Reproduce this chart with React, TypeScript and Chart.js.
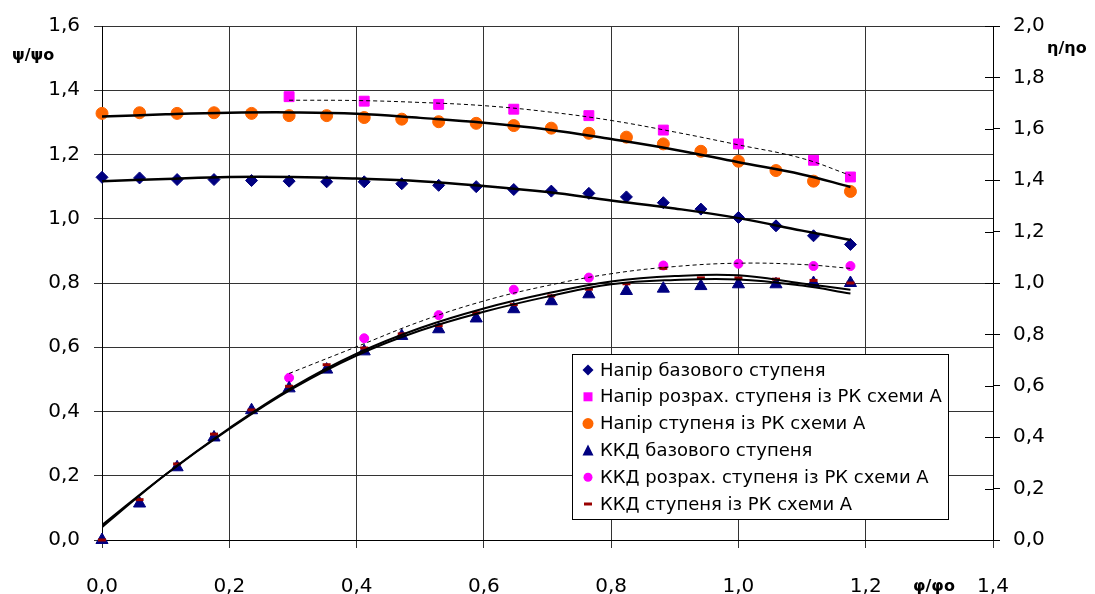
import React, { useEffect, useRef } from "react";
import { Chart, registerables } from "chart.js";

Chart.register(...registerables);

// ---- data ----
const phi = [0, 0.059, 0.118, 0.176, 0.235, 0.294, 0.353, 0.412, 0.471, 0.529, 0.588, 0.647, 0.706, 0.765, 0.824, 0.882, 0.941, 1.0, 1.059, 1.118, 1.176];
const headBase = [1.129, 1.127, 1.122, 1.122, 1.119, 1.117, 1.115, 1.115, 1.109, 1.104, 1.1, 1.091, 1.086, 1.079, 1.068, 1.05, 1.03, 1.004, 0.978, 0.947, 0.92];
const headA = [1.328, 1.33, 1.328, 1.33, 1.328, 1.321, 1.321, 1.315, 1.31, 1.302, 1.297, 1.29, 1.282, 1.266, 1.254, 1.233, 1.21, 1.179, 1.15, 1.117, 1.085];
const phiCalc = [0.294, 0.412, 0.529, 0.647, 0.765, 0.882, 1.0, 1.118, 1.176];
const headCalc = [1.38, 1.366, 1.356, 1.341, 1.321, 1.276, 1.233, 1.182, 1.13];
const effBase = [0, 0.142, 0.283, 0.399, 0.505, 0.59, 0.663, 0.734, 0.794, 0.82, 0.862, 0.898, 0.929, 0.956, 0.969, 0.978, 0.988, 0.995, 0.995, 1.0, 1.0];
const effCalc = [0.631, 0.785, 0.875, 0.974, 1.021, 1.068, 1.075, 1.066, 1.066];
const effA = [0, 0.157, 0.296, 0.412, 0.506, 0.598, 0.682, 0.747, 0.802, 0.834, 0.884, 0.916, 0.95, 0.976, 0.997, 1.057, 1.02, 1.02, 1.015, 1.01, 1.0];

// trend curves
const trendX = [0, 0.1, 0.2, 0.3, 0.4, 0.5, 0.6, 0.7, 0.8, 0.9, 1.0, 1.1, 1.176];
const headATrend = [1.318, 1.325, 1.33, 1.331, 1.327, 1.314, 1.299, 1.278, 1.248, 1.215, 1.176, 1.138, 1.099];
const headBaseTrend = [1.117, 1.124, 1.13, 1.13, 1.125, 1.117, 1.102, 1.083, 1.057, 1.032, 1.002, 0.963, 0.934];
const effATrend = [0.05, 0.255, 0.435, 0.595, 0.725, 0.825, 0.901, 0.96, 1.006, 1.027, 1.03, 0.998, 0.974];
const effBaseTrend = [0.058, 0.255, 0.432, 0.59, 0.718, 0.815, 0.888, 0.947, 0.995, 1.012, 1.014, 0.99, 0.959];
const trendCalcX = [0.294, 0.4, 0.5, 0.6, 0.7, 0.8, 0.9, 1.0, 1.1, 1.176];
const headCalcTrend = [1.369, 1.368, 1.362, 1.352, 1.333, 1.306, 1.27, 1.23, 1.188, 1.135];
const effCalcTrend = [0.648, 0.752, 0.85, 0.93, 0.99, 1.036, 1.064, 1.077, 1.072, 1.057];

const seriesLabels = [
  "Напір базового ступеня",
  "Напір розрах. ступеня із РК схеми А",
  "Напір ступеня із РК схеми А",
  "ККД базового ступеня",
  "ККД розрах. ступеня із РК схеми А",
  "ККД ступеня із РК схеми А",
];
const xTitle = "φ/φo";
const yTitle = "ψ/ψo";
const y1Title = "η/ηo";

const NAVY = "#000080";
const MAGENTA = "#FF00FF";
const ORANGE = "#FF6600";
const DARKRED = "#990000";

const pts = (xs: number[], ys: number[]) => ys.map((y, i) => ({ x: xs[i], y }));
const fmt = (v: any) => Number(v).toFixed(1).replace(".", ",");

function drawMarker(ctx: CanvasRenderingContext2D, kind: string, x: number, y: number) {
  ctx.save();
  ctx.beginPath();
  if (kind === "diamond") {
    ctx.fillStyle = NAVY;
    ctx.moveTo(x, y - 5.5); ctx.lineTo(x + 5.5, y); ctx.lineTo(x, y + 5.5); ctx.lineTo(x - 5.5, y); ctx.closePath(); ctx.fill();
  } else if (kind === "square") {
    ctx.fillStyle = MAGENTA; ctx.fillRect(x - 4.5, y - 4.5, 9, 9);
  } else if (kind === "bigcircle") {
    ctx.fillStyle = ORANGE; ctx.arc(x, y, 5.5, 0, Math.PI * 2); ctx.fill();
  } else if (kind === "triangle") {
    ctx.fillStyle = NAVY;
    ctx.moveTo(x, y - 6); ctx.lineTo(x + 5.5, y + 5); ctx.lineTo(x - 5.5, y + 5); ctx.closePath(); ctx.fill();
  } else if (kind === "smallcircle") {
    ctx.fillStyle = MAGENTA; ctx.arc(x, y, 4.5, 0, Math.PI * 2); ctx.fill();
  } else if (kind === "dash") {
    ctx.strokeStyle = DARKRED; ctx.lineWidth = 3; ctx.moveTo(x - 4, y); ctx.lineTo(x + 4, y); ctx.stroke();
  }
  ctx.restore();
}

const legendKinds = ["diamond", "square", "bigcircle", "triangle", "smallcircle", "dash"];

const overlay = {
  id: "overlay",
  afterDraw(chart: any) {
    const ctx: CanvasRenderingContext2D = chart.ctx;
    const ca = chart.chartArea;
    const y1 = chart.scales.y1;
    ctx.save();
    // inner part of right-axis tick marks
    ctx.strokeStyle = "#000";
    ctx.lineWidth = 1;
    y1.ticks.forEach((t: any) => {
      const py = Math.round(y1.getPixelForValue(t.value)) + 0.5;
      ctx.beginPath();
      ctx.moveTo(ca.right - 8, py);
      ctx.lineTo(ca.right, py);
      ctx.stroke();
    });
    // axis titles
    ctx.fillStyle = "#000";
    ctx.font = 'bold 16px "DejaVu Sans"';
    ctx.textAlign = "left";
    ctx.textBaseline = "alphabetic";
    ctx.fillText(yTitle, 12, 60);
    ctx.fillText(y1Title, 1047, 53);
    ctx.fillText(xTitle, 913, 591);
    // legend
    const lx = 572.5, ly = 354.5, lw = 376, lh = 165;
    ctx.fillStyle = "#fff";
    ctx.fillRect(lx, ly, lw, lh);
    ctx.strokeStyle = "#000";
    ctx.strokeRect(lx, ly, lw, lh);
    ctx.font = '18px "DejaVu Sans"';
    ctx.textBaseline = "middle";
    seriesLabels.forEach((lab, i) => {
      const yy = 370 + i * 26.8;
      drawMarker(ctx, legendKinds[i], 588, yy);
      ctx.fillStyle = "#000";
      ctx.fillText(lab, 600, yy + 1);
    });
    ctx.restore();
  },
};

export default function App() {
  const ref = useRef<HTMLCanvasElement | null>(null);
  useEffect(() => {
    if (!ref.current) return;
    const markerBase = { showLine: false, clip: false as any, order: 2, yAxisID: "y" };
    const trendBase = { pointRadius: 0, borderColor: "#000", tension: 0.4, fill: false, order: 0 };
    const chart = new Chart(ref.current, {
      type: "line",
      data: {
        datasets: [
          { ...trendBase, data: pts(trendX, headATrend), borderWidth: 2.5, yAxisID: "y" },
          { ...trendBase, data: pts(trendX, headBaseTrend), borderWidth: 2.5, yAxisID: "y" },
          { ...trendBase, data: pts(trendCalcX, headCalcTrend), borderWidth: 1, borderDash: [4, 3], yAxisID: "y" },
          { ...trendBase, data: pts(trendX, effATrend), borderWidth: 2, yAxisID: "y1" },
          { ...trendBase, data: pts(trendX, effBaseTrend), borderWidth: 2, yAxisID: "y1" },
          { ...trendBase, data: pts(trendCalcX, effCalcTrend), borderWidth: 1, borderDash: [4, 3], yAxisID: "y1" },
          { ...markerBase, label: seriesLabels[0], data: pts(phi, headBase), pointStyle: "rectRot", pointRadius: 6, backgroundColor: NAVY, borderColor: NAVY, borderWidth: 1 },
          { ...markerBase, label: seriesLabels[1], data: pts(phiCalc, headCalc), pointStyle: "rect", pointRadius: 7, backgroundColor: MAGENTA, borderColor: MAGENTA, borderWidth: 1 },
          { ...markerBase, label: seriesLabels[2], data: pts(phi, headA), pointStyle: "circle", pointRadius: 6, backgroundColor: ORANGE, borderColor: ORANGE, borderWidth: 1 },
          { ...markerBase, label: seriesLabels[3], yAxisID: "y1", data: pts(phi, effBase), pointStyle: "triangle", pointRadius: 7, backgroundColor: NAVY, borderColor: NAVY, borderWidth: 1 },
          { ...markerBase, label: seriesLabels[4], yAxisID: "y1", data: pts(phiCalc, effCalc), pointStyle: "circle", pointRadius: 4.5, backgroundColor: MAGENTA, borderColor: MAGENTA, borderWidth: 1 },
          { ...markerBase, label: seriesLabels[5], yAxisID: "y1", order: 1, data: pts(phi, effA), pointStyle: "line", pointRadius: 4, backgroundColor: DARKRED, borderColor: DARKRED, borderWidth: 3 },
        ] as any,
      },
      options: {
        animation: false,
        responsive: false,
        events: [],
        layout: { padding: { top: 22, left: 0, right: 0, bottom: 0 } },
        plugins: { legend: { display: false }, tooltip: { enabled: false } },
        scales: {
          x: {
            type: "linear",
            min: 0,
            max: 1.4,
            ticks: { stepSize: 0.2, callback: fmt, color: "#000", font: { family: "DejaVu Sans", size: 20 }, padding: 27, maxRotation: 0 },
            grid: { color: "#333", lineWidth: 1, tickLength: 8 },
            border: { color: "#000" },
            afterFit: (s: any) => { s.height = 54; },
          },
          y: {
            position: "left",
            min: 0,
            max: 1.6,
            ticks: { stepSize: 0.2, callback: fmt, color: "#000", font: { family: "DejaVu Sans", size: 20 }, padding: 14 },
            grid: { color: "#333", lineWidth: 1, tickLength: 8 },
            border: { color: "#000" },
            afterFit: (s: any) => { s.width = 102; },
          },
          y1: {
            position: "right",
            min: 0,
            max: 2.0,
            ticks: { stepSize: 0.2, callback: fmt, color: "#000", font: { family: "DejaVu Sans", size: 20 }, padding: 13 },
            grid: { drawOnChartArea: false, color: "#000", lineWidth: 1, tickLength: 7 },
            border: { color: "#000" },
            afterFit: (s: any) => { s.width = 102; },
          },
        },
      } as any,
      plugins: [overlay],
    });
    return () => chart.destroy();
  }, []);
  return (
    <div style={{ position: "fixed", left: 0, top: 0, width: 1095, height: 594, background: "#fff" }}>
      <canvas ref={ref} width={1095} height={594} style={{ display: "block" }} />
    </div>
  );
}
